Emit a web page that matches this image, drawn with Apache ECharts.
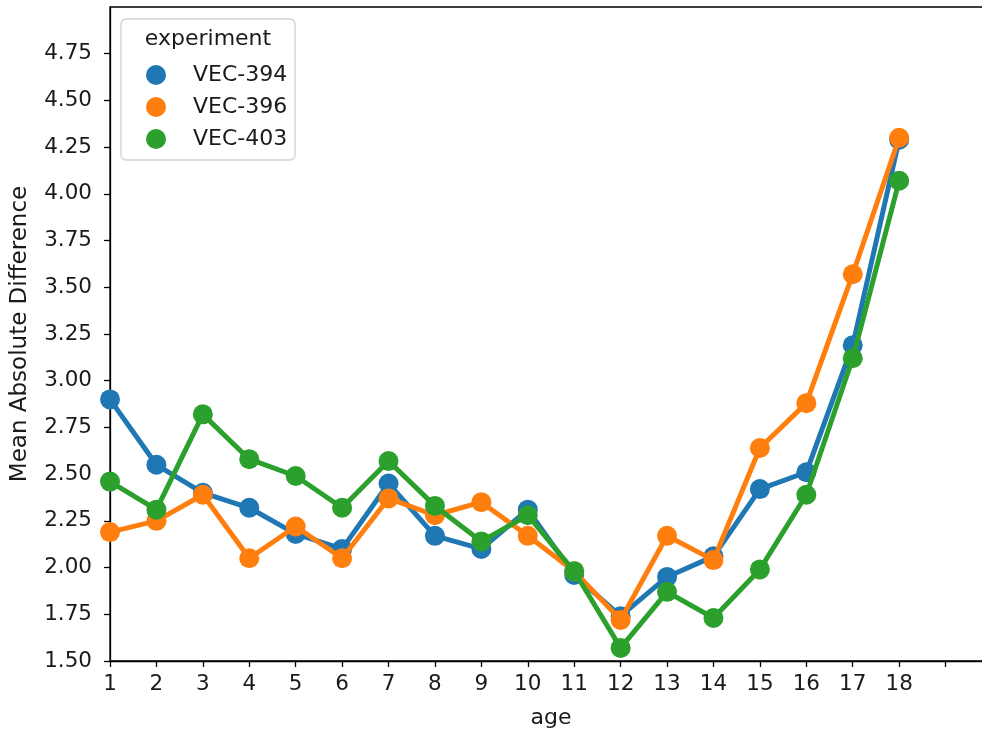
<!DOCTYPE html>
<html>
<head>
<meta charset="utf-8">
<title>Mean Absolute Difference by age</title>
<script src="https://cdn.jsdelivr.net/npm/echarts@6/dist/echarts.min.js"></script>
<style>
  html, body { margin: 0; padding: 0; background: #fff; }
  #chart { width: 982px; height: 733px; }
</style>
</head>
<body>
<div id="chart"></div>
<script>
// Ages on the x axis
const ages = [1, 2, 3, 4, 5, 6, 7, 8, 9, 10, 11, 12, 13, 14, 15, 16, 17, 18];

// Mean absolute difference per age, one array per experiment
const vec394 = [2.90, 2.55, 2.40, 2.32, 2.18, 2.10, 2.45, 2.17, 2.10, 2.31, 1.96, 1.74, 1.95, 2.06, 2.42, 2.51, 3.19, 4.29];
const vec396 = [2.19, 2.25, 2.39, 2.05, 2.22, 2.05, 2.37, 2.28, 2.35, 2.17, 1.98, 1.72, 2.17, 2.04, 2.64, 2.88, 3.57, 4.30];
const vec403 = [2.46, 2.31, 2.82, 2.58, 2.49, 2.32, 2.57, 2.33, 2.14, 2.28, 1.98, 1.57, 1.87, 1.73, 1.99, 2.39, 3.12, 4.07];

const seriesNames = ['VEC-394', 'VEC-396', 'VEC-403'];
const seriesData = [vec394, vec396, vec403];
const colors = ['#1f77b4', '#ff7f0e', '#2ca02c'];

// Tick positions
const yTicks = [1.5, 1.75, 2.0, 2.25, 2.5, 2.75, 3.0, 3.25, 3.5, 3.75, 4.0, 4.25, 4.5, 4.75];
const xTicks = [1, 2, 3, 4, 5, 6, 7, 8, 9, 10, 11, 12, 13, 14, 15, 16, 17, 18, 19];

const FONT = 'DejaVu Sans';
const chart = echarts.init(document.getElementById('chart'), null, { renderer: 'canvas' });

const series = seriesNames.map((name, i) => ({
  name: name,
  type: 'line',
  data: ages.map((a, k) => [a, seriesData[i][k]]),
  symbol: 'circle',
  symbolSize: 20,
  itemStyle: { color: colors[i] },
  lineStyle: { color: colors[i], width: 5 },
  emphasis: { disabled: true },
  animation: false,
  z: 2 + i
}));

chart.setOption({
  animation: false,
  textStyle: { fontFamily: FONT },
  grid: {
    left: 110,
    top: 7,
    width: 882,
    height: 654,
    outerBoundsMode: 'none',
    containLabel: false,
    show: true,
    borderColor: '#000',
    borderWidth: 1.3,
    backgroundColor: 'transparent'
  },
  xAxis: {
    type: 'value',
    min: 1,
    max: 20,
    interval: 1,
    name: 'age',
    nameLocation: 'middle',
    nameGap: 46,
    nameMoveOverlap: false,
    nameTextStyle: { color: '#1a1a1a', fontSize: 22, fontFamily: FONT },
    axisLine: { show: true, lineStyle: { color: '#000', width: 1.3 } },
    axisTick: { show: true, length: 6, lineStyle: { color: '#000', width: 1.3 }, customValues: xTicks },
    axisLabel: {
      color: '#1a1a1a', fontSize: 21.5, fontFamily: FONT, margin: 12,
      customValues: ages,
      formatter: v => String(v)
    },
    splitLine: { show: false }
  },
  yAxis: {
    type: 'value',
    min: 1.5,
    max: 5.0,
    interval: 0.25,
    name: 'Mean Absolute Difference',
    nameLocation: 'middle',
    nameGap: 78,
    nameMoveOverlap: false,
    nameTextStyle: { color: '#1a1a1a', fontSize: 23, fontFamily: FONT },
    axisLine: { show: true, lineStyle: { color: '#000', width: 1.3 } },
    axisTick: { show: true, length: 6, lineStyle: { color: '#000', width: 1.3 }, customValues: yTicks },
    axisLabel: {
      color: '#1a1a1a', fontSize: 21.5, fontFamily: FONT, margin: 18,
      customValues: yTicks,
      formatter: v => v.toFixed(2)
    },
    splitLine: { show: false }
  },
  legend: {
    orient: 'vertical',
    left: 141,
    top: 59,
    itemWidth: 20,
    itemHeight: 20,
    itemGap: 10,
    icon: 'circle',
    data: seriesNames,
    textStyle: { color: '#1a1a1a', fontSize: 22, fontFamily: FONT, padding: [0, 0, 0, 22] },
    selectedMode: false,
    z: 10
  },
  graphic: [
    {
      type: 'rect',
      z: 9,
      shape: { x: 121, y: 19, width: 174, height: 141, r: 5 },
      style: { fill: 'rgba(255,255,255,0.8)', stroke: '#d0d0d0', lineWidth: 1.3 }
    },
    {
      type: 'text',
      z: 10,
      style: {
        x: 208, y: 39, text: 'experiment',
        fill: '#1a1a1a', font: '22px "DejaVu Sans"',
        textAlign: 'center', textVerticalAlign: 'middle'
      }
    }
  ],
  series: series
});
</script>
</body>
</html>
